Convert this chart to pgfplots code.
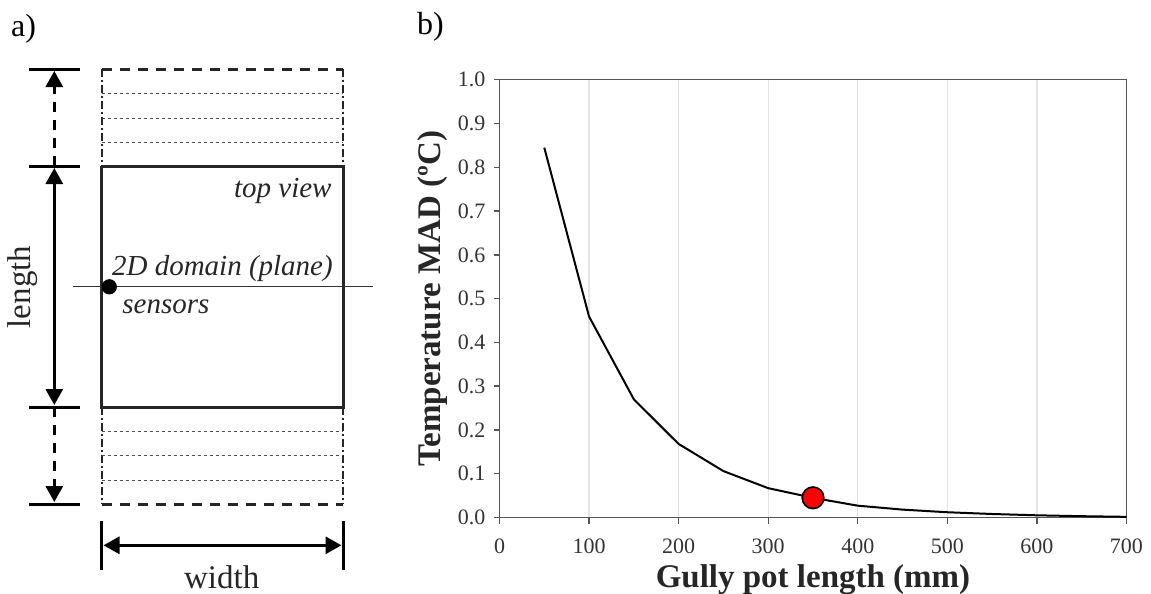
\documentclass[border=0pt]{standalone}
\usepackage{fontspec}
\setmainfont{Liberation Serif}
\usepackage{pgfplots}
\pgfplotsset{compat=1.18}
\usetikzlibrary{arrows.meta}
\definecolor{axgray}{HTML}{555555}
\definecolor{gridgray}{HTML}{E4E4E4}
\definecolor{mred}{HTML}{FF0000}
\pgfplotstableread{
x y
50 0.845
100 0.459
150 0.270
200 0.168
250 0.106
300 0.067
350 0.045
400 0.027
450 0.018
500 0.012
550 0.008
600 0.005
650 0.003
700 0.0015
}\maddata
\begin{document}
\begin{tikzpicture}
\useasboundingbox (0,0) rectangle (575.5pt,297pt);
% ---------- panel a (schematic), pixel coordinates ----------
\begin{axis}[at={(0,0)}, anchor=south west, scale only axis,
  width=575.5pt, height=297pt, xmin=0, xmax=1151, ymin=0, ymax=594,
  y dir=reverse, hide axis, clip=false]
% dimension tick lines on the left
\addplot[black, line width=1.5pt, no marks] coordinates {(29,69) (80,69)};
\addplot[black, line width=1.5pt, no marks] coordinates {(29,166) (80,166)};
\addplot[black, line width=1.5pt, no marks] coordinates {(29,407) (80,407)};
\addplot[black, line width=1.5pt, no marks] coordinates {(29,504) (80,504)};
% vertical arrows
\addplot[black, line width=1.5pt, no marks, dash pattern=on 5pt off 4pt,
  -{Triangle[length=8pt,width=8.5pt]}] coordinates {(54.3,166) (54.3,71)};
\addplot[black, line width=1.5pt, no marks,
  {Triangle[length=8pt,width=8.5pt]}-{Triangle[length=8pt,width=8.5pt]}] coordinates {(54.3,168) (54.3,405)};
\addplot[black, line width=1.5pt, no marks, dash pattern=on 5pt off 4pt,
  -{Triangle[length=8pt,width=8.5pt]}] coordinates {(54.3,407) (54.3,502)};
% main rectangle
\addplot[black!85, line width=1.5pt, no marks, line join=miter] coordinates {(101.7,166) (343.3,166) (343.3,407) (101.7,407) (101.7,166)};
% outer dashed extensions
\addplot[black!85, line width=1.5pt, no marks, dash pattern=on 5pt off 4pt] coordinates {(101.7,69) (343.3,69)};
\addplot[black!85, line width=1.5pt, no marks, dash pattern=on 5pt off 4pt] coordinates {(101.7,504) (343.3,504)};
\addplot[black!85, line width=1.1pt, no marks, dash pattern=on 4pt off 1.5pt on 1pt off 1.5pt] coordinates {(101.7,69) (101.7,166)};
\addplot[black!85, line width=1.1pt, no marks, dash pattern=on 4pt off 1.5pt on 1pt off 1.5pt] coordinates {(343.3,69) (343.3,166)};
\addplot[black!85, line width=1.1pt, no marks, dash pattern=on 4pt off 1.5pt on 1pt off 1.5pt] coordinates {(101.7,407) (101.7,504)};
\addplot[black!85, line width=1.1pt, no marks, dash pattern=on 4pt off 1.5pt on 1pt off 1.5pt] coordinates {(343.3,407) (343.3,504)};
% thin dotted interior lines
\addplot[black!70, line width=0.5pt, no marks, dash pattern=on 1.6pt off 1.4pt] coordinates {(101.7,93.6) (343.3,93.6)};
\addplot[black!70, line width=0.5pt, no marks, dash pattern=on 1.6pt off 1.4pt] coordinates {(101.7,118.1) (343.3,118.1)};
\addplot[black!70, line width=0.5pt, no marks, dash pattern=on 1.6pt off 1.4pt] coordinates {(101.7,142.3) (343.3,142.3)};
\addplot[black!70, line width=0.5pt, no marks, dash pattern=on 1.6pt off 1.4pt] coordinates {(101.7,431.3) (343.3,431.3)};
\addplot[black!70, line width=0.5pt, no marks, dash pattern=on 1.6pt off 1.4pt] coordinates {(101.7,455.8) (343.3,455.8)};
\addplot[black!70, line width=0.5pt, no marks, dash pattern=on 1.6pt off 1.4pt] coordinates {(101.7,480) (343.3,480)};
% centre line and sensor dot
\addplot[black!80, line width=0.6pt, no marks] coordinates {(73.3,286.8) (372.7,286.8)};
\addplot[only marks, mark=*, mark size=3.6pt, black] coordinates {(109.3,286.8)};
% width dimension
\addplot[black, line width=1.5pt, no marks] coordinates {(101.7,520.8) (101.7,569.8)};
\addplot[black, line width=1.5pt, no marks] coordinates {(343.3,520.8) (343.3,569.8)};
\addplot[black, line width=1.5pt, no marks,
  {Triangle[length=8pt,width=8.5pt]}-{Triangle[length=8pt,width=8.5pt]}] coordinates {(103.5,545.3) (341.5,545.3)};
% texts
\node[anchor=base west, inner sep=0pt, font=\fontsize{16}{18}\selectfont] at (axis cs:10.7,36.7) {a)};
\node[anchor=base west, inner sep=0pt, font=\fontsize{16}{18}\selectfont] at (axis cs:416.7,34) {b)};
\node[anchor=base, inner sep=0pt, rotate=90, font=\fontsize{16.5}{18}\selectfont, text=black!85] at (axis cs:30.5,287) {length};
\node[anchor=base, inner sep=0pt, font=\fontsize{16.5}{18}\selectfont, text=black!85] at (axis cs:221.7,588) {width};
\node[anchor=base east, inner sep=0pt, font=\fontsize{14.5}{17}\selectfont\itshape, text=black!85] at (axis cs:332,197) {top view};
\node[anchor=base west, inner sep=0pt, font=\fontsize{14.5}{17}\selectfont\itshape, text=black!85] at (axis cs:111.7,275) {2D domain (plane)};
\node[anchor=base west, inner sep=0pt, font=\fontsize{14.5}{17}\selectfont\itshape, text=black!85] at (axis cs:122,313) {sensors};
\end{axis}
% ---------- panel b ----------
\begin{axis}[at={(249.75pt,38.25pt)}, anchor=south west, scale only axis,
  width=313.5pt, height=218.85pt,
  xmin=0, xmax=700, ymin=0, ymax=1,
  xtick={0,100,...,700}, ytick={0,0.1,...,1.0},
  xtick pos=bottom, ytick pos=left, tick align=outside,
  major tick length=3pt,
  axis line style={axgray, line width=0.7pt},
  tick style={axgray, line width=0.7pt},
  xmajorgrids, grid style={gridgray, line width=0.6pt},
  /pgf/number format/assume math mode=true,
  yticklabel style={/pgf/number format/fixed, /pgf/number format/fixed zerofill, /pgf/number format/precision=1, xshift=-0.5pt},
  ticklabel style={font=\fontsize{11}{13}\selectfont, text=black!80},
  xticklabel style={yshift=-4pt},
  xlabel={Gully pot length (mm)},
  ylabel={Temperature MAD (ºC)},
  label style={font=\fontsize{16.5}{18}\selectfont\bfseries, text=black!85},
  xlabel style={at={(axis description cs:0.5,-0.1588)}, anchor=base},
  ylabel style={at={(axis description cs:-0.0949,0.5)}, anchor=base},
  clip=false]
\addplot[black, line width=1pt, no marks] table[x=x, y=y] {\maddata};
\addplot[only marks, mark=*, mark size=5.4pt, mark options={fill=mred, draw=black, line width=0.8pt}] coordinates {(350,0.045)};
\end{axis}
\end{tikzpicture}
\end{document}
